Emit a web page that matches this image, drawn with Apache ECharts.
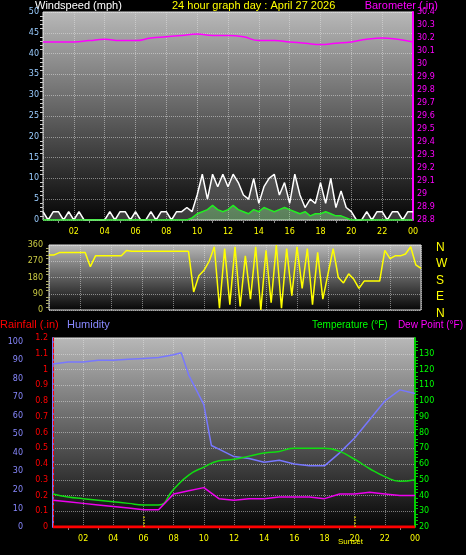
<!DOCTYPE html>
<html>
<head>
<meta charset="utf-8">
<script src="https://cdn.jsdelivr.net/npm/echarts@6/dist/echarts.min.js"></script>
<style>html,body{margin:0;background:#000}#c{width:466px;height:555px}</style>
</head>
<body>
<div id="c"></div>
<script>
// 20 minute steps, 0h .. 24h
var windGust = [2,0,2,2,0,2,0,2,0, 0,0,0,0,2,0,2,2,0, 2,0,0,2,0,2,2,0,2,
  2,3,2,6,11,5,11,8,11, 8,11,9,6,5,10,4,8,10, 11,6,9,4,11,6,3,5,4,
  9,4,10,3,7,3,2,0,0, 2,0,2,2,0,2,2,0,2,2];
var windAvg = [0,0,0,0,0,0,0,0,0, 0,0,0,0,0,0,0,0,0, 0,0,0,0,0,0,0,0,0,
  0,0,0.5,1.5,2,2.5,3.5,2.5,2, 2.5,3.5,2.5,2,1.5,2.5,2,3,2.5, 2,2.5,3,2.5,2,1.5,2,1,1.5,
  1.5,2,1.5,1,1,0.5,0,0,0, 0,0,0,0,0,0,0,0,0,0];
var windDir = [305,305,318,318,318,318,318,318,240, 300,300,300,300,300,300,330,325,325,
  325,325,325,325,325,325,325,325,325, 325,100,190,220,270,350,10,340,30,
  350,20,300,60,350,0,330,40,360, 10,340,80,350,120,340,30,320,60,
  200,340,180,150,200,170,120,160,160, 160,160,330,285,300,300,310,350,250,230];
// hourly
var baro = [30.17,30.17,30.17,30.18,30.19,30.18,30.18,30.20,30.21,30.22,30.23,30.22,30.22,
  30.21,30.18,30.18,30.17,30.16,30.15,30.16,30.17,30.19,30.20,30.19,30.17];
var temp = [41,39,38,37,36,35,34,34,44,53,58,62,63,65,67,68,70,70,70,68,63,57,52,49,50];
var dew = [37,36,35,34,33,32,31,31,41,43,45,38,37,38,38,39,39,39,38,41,41,42,41,40,40];
var rain = [0,0,0,0,0,0,0,0,0,0,0,0,0,0,0,0,0,0,0,0,0,0,0,0,0];
var humTimes = [0,1,2,3,4,5,6,7,8,8.5,9,9.5,10,10.5,11,12,13,14,15,16,17,18,19,20,21,22,23,24];
var humidity = [88,89,89,90,90,90.5,91,91.5,93,94,82,74,66,44,42,38,37,35,36,34,33,33,40,48,58,68,74,72];

function steps(arr, dt) { return arr.map(function (v, i) { return [i * dt, v]; }); }
function pairs(t, arr) { return arr.map(function (v, i) { return [t[i], v]; }); }

var bg = {type:'linear',x:0,y:0,x2:0,y2:1,colorStops:[{offset:0,color:'#b8b8b8'},{offset:1,color:'#050505'}]};
var grid = {show:true,backgroundColor:bg,borderColor:'#ddd',borderWidth:1};
var split = {show:true,lineStyle:{color:'rgba(230,230,230,0.5)',type:'dotted'}};
var font = {fontFamily:'DejaVu Sans',fontSize:8};
function txt(pos, text, color, size) {
  return Object.assign({type:'text',style:{text:text,fill:color,fontSize:size || 11,fontFamily:'Liberation Sans'}}, pos);
}
function hourLabel(v) { return v === 0 ? '' : (v % 24 < 10 ? '0' : '') + (v % 24); }
function xAx(i, labels) {
  return {type:'value',gridIndex:i,min:0,max:24,interval:2,splitLine:split,
    axisLine:{show:false},axisTick:{show:false},
    minorTick:{show:labels,splitNumber:2,length:3,lineStyle:{color:'#888'}},
    axisLabel:Object.assign({show:labels,color:'#ff0',formatter:hourLabel},font)};
}
function yAx(i, o) {
  return Object.assign({type:'value',gridIndex:i,splitLine:split,axisTick:{show:false},
    minorTick:{show:true,length:3},
    axisLabel:Object.assign({margin:4},font)}, o);
}

var chart = echarts.init(document.getElementById('c'));
chart.setOption({
  backgroundColor:'#000',
  animation:false,
  textStyle:{fontFamily:'DejaVu Sans'},
  grid:[
    Object.assign({left:43,right:53,top:12,height:208},grid),
    Object.assign({left:49,right:45,top:245,height:65},grid),
    Object.assign({left:53,right:51,top:338,height:189},grid)
  ],
  graphic:[
    txt({left:35,top:0},'Windspeed (mph)','#fff'),
    txt({left:172,top:0},'24 hour graph day : April 27 2026','#ff0'),
    txt({right:28,top:0},'Barometer (.in)','#f0f'),
    {type:'text',left:436,top:239,style:{text:'N\nW\nS\nE\nN',fill:'#ff0',fontSize:12,fontFamily:'Liberation Sans',lineHeight:16.5}},
    txt({left:0,top:319},'Rainfall (.in)','#f00'),
    txt({left:67,top:319},'Humidity','#88f'),
    txt({left:312,top:320},'Temperature (°F)','#0f0',10),
    txt({right:3,top:320},'Dew Point (°F)','#f0f',10),
    txt({left:338,top:538},'Sunset','#ff0',8)
  ],
  xAxis:[xAx(0,true),xAx(1,false),xAx(2,true)],
  yAxis:[
    yAx(0,{min:0,max:50,interval:5,axisLine:{show:false},axisLabel:Object.assign({color:'#9cf',margin:4},font),minorTick:{show:true,length:3,lineStyle:{color:'#ccc'}}}),
    yAx(0,{min:28.8,max:30.4,interval:0.1,position:'right',splitLine:{show:false},
      axisLine:{show:true,lineStyle:{color:'#f0f',width:2}},axisLabel:Object.assign({color:'#f0f',margin:4},font),minorTick:{show:false}}),
    yAx(1,{min:0,max:360,interval:90,axisLine:{show:false},axisLabel:Object.assign({color:'#cc4',margin:6},font),minorTick:{show:true,length:3,lineStyle:{color:'#aa6'}}}),
    yAx(2,{min:0,max:102,interval:10,position:'left',offset:24,splitLine:{show:false},
      axisLine:{show:true,lineStyle:{color:'#77f',width:2}},axisLabel:Object.assign({color:'#88f',margin:6},font),minorTick:{show:false}}),
    yAx(2,{min:0,max:1.2,interval:0.1,position:'left',splitLine:{show:false},
      axisLine:{show:true,lineStyle:{color:'#f00',width:1,type:'dashed'}},axisLabel:Object.assign({color:'#f00',margin:5},font),minorTick:{show:false}}),
    yAx(2,{min:20,max:140,interval:10,position:'right',
      axisLine:{show:true,lineStyle:{color:'#0c0',width:2}},axisLabel:Object.assign({color:'#0f0',margin:4,formatter:function(v){return v>130?'':v;}},font),minorTick:{show:true,length:3,lineStyle:{color:'#0c0'}}})
  ],
  series:[
    {type:'line',xAxisIndex:0,yAxisIndex:0,data:steps(windGust,1/3),symbol:'none',
      lineStyle:{color:'#fff',width:1.5},areaStyle:{color:'rgba(255,255,255,0.3)'}},
    {type:'line',xAxisIndex:0,yAxisIndex:0,data:steps(windAvg,1/3),symbol:'none',
      lineStyle:{color:'#2e2',width:1.5},areaStyle:{color:'rgba(150,255,150,0.5)'}},
    {type:'line',xAxisIndex:0,yAxisIndex:1,data:steps(baro,1),smooth:true,symbol:'none',lineStyle:{color:'#f0f',width:1.5}},
    {type:'line',xAxisIndex:1,yAxisIndex:2,data:steps(windDir,1/3),symbol:'none',lineStyle:{color:'#ff0',width:1.5}},
    {type:'line',xAxisIndex:2,yAxisIndex:3,data:pairs(humTimes,humidity),symbol:'none',lineStyle:{color:'#77f',width:1.5}},
    {type:'line',xAxisIndex:2,yAxisIndex:5,data:steps(temp,1),smooth:true,symbol:'none',lineStyle:{color:'#1d1',width:1.5},
      markLine:{silent:true,symbol:'none',label:{show:false},lineStyle:{color:'#cc0',type:'dotted',width:1.5},
        data:[[{coord:[6,20]},{coord:[6,27]}],[{coord:[20,20]},{coord:[20,27]}]]}},
    {type:'line',xAxisIndex:2,yAxisIndex:5,data:steps(dew,1),symbol:'none',lineStyle:{color:'#e0e',width:1.5}},
    {type:'line',xAxisIndex:2,yAxisIndex:4,data:steps(rain,1),symbol:'none',lineStyle:{color:'#f00',width:3}}
  ]
});
</script>
</body>
</html>
